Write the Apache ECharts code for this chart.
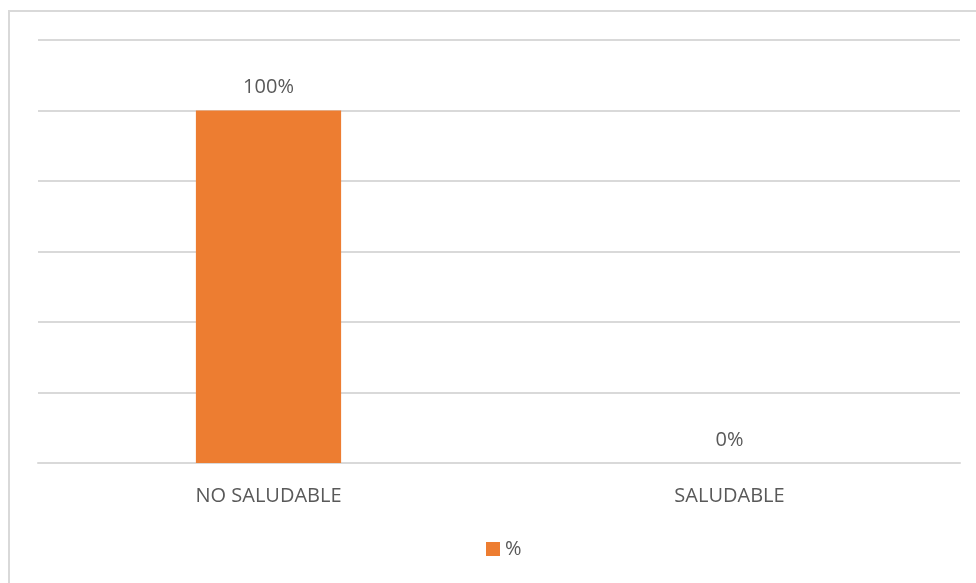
<!DOCTYPE html>
<html><head><meta charset="utf-8">
<script src="https://cdn.jsdelivr.net/npm/echarts@6/dist/echarts.min.js"></script>
<style>html,body{margin:0;padding:0;background:#fff}#c{width:976px;height:583px}</style>
</head><body><div id="c"></div>
<script>
const categories = ['NO SALUDABLE', 'SALUDABLE'];
const seriesName = '%';
const values = [1.0, 0.0];
const yMax = 1.2;
const yInterval = 0.2;

const chart = echarts.init(document.getElementById('c'), null, {renderer: 'canvas'});
const txt = '#595959';
const font = 'Open Sans';
chart.setOption({
  animation: false,
  textStyle: {fontFamily: font},
  graphic: [{type: 'rect', shape: {x: 9, y: 11, width: 1000, height: 1000}, style: {fill: 'none', stroke: '#d9d9d9', lineWidth: 2}, silent: true}],
  grid: {left: 38, right: 16, top: 40, bottom: 120},
  legend: {top: 539, left: 486, padding: 0, itemWidth: 14, itemHeight: 14, icon: 'rect',
    textStyle: {color: txt, fontSize: 20, fontFamily: font}, data: [seriesName]},
  xAxis: {type: 'category', data: categories,
    axisLine: {lineStyle: {color: '#d9d9d9', width: 2}}, axisTick: {show: false},
    axisLabel: {color: txt, fontSize: 20, fontFamily: font, margin: 23}},
  yAxis: {type: 'value', min: 0, max: yMax, interval: yInterval,
    axisLabel: {show: false}, axisLine: {show: false}, axisTick: {show: false},
    splitLine: {lineStyle: {color: '#d9d9d9', width: 2}}},
  series: [{name: seriesName, type: 'bar', data: values, barWidth: '31.5%',
    itemStyle: {color: '#ED7D31'},
    label: {show: true, position: 'top', distance: 13, color: txt, fontSize: 20, fontFamily: font,
      formatter: p => Math.round(p.value * 100) + '%'}}]
});
</script></body></html>
